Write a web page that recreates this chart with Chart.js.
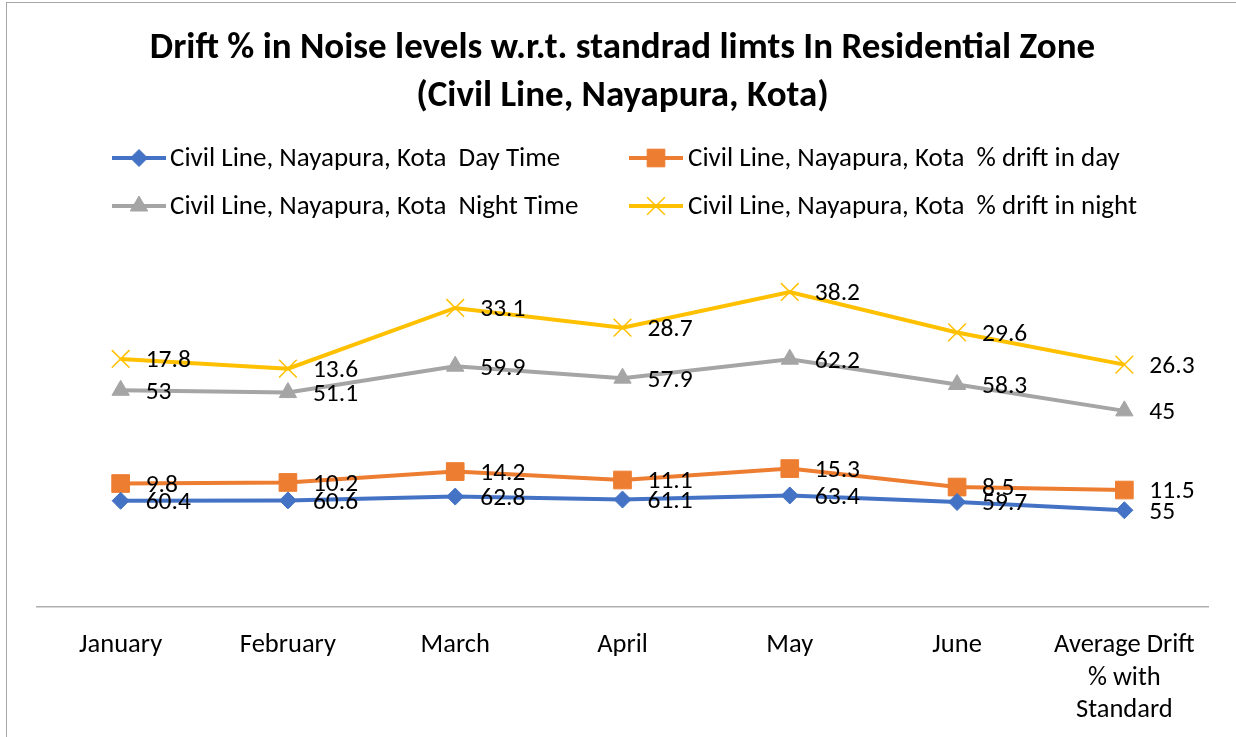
<!DOCTYPE html>
<html>
<head>
<meta charset="utf-8">
<script src="https://cdn.jsdelivr.net/npm/chart.js@4/dist/chart.umd.min.js"></script>
<style>
  html, body { margin: 0; padding: 0; background: #fff; }
  #wrap { position: relative; width: 1236px; height: 737px; }
</style>
</head>
<body>
<div id="wrap"><canvas id="c" width="1236" height="737"></canvas></div>
<script>
const categories = ["January", "February", "March", "April", "May", "June", ["Average Drift", "% with", "Standard"]];
const dayTime = [60.4, 60.6, 62.8, 61.1, 63.4, 59.7, 55];
const driftDay = [9.8, 10.2, 14.2, 11.1, 15.3, 8.5, 11.5];
const nightTime = [53, 51.1, 59.9, 57.9, 62.2, 58.3, 45];
const driftNight = [17.8, 13.6, 33.1, 28.7, 38.2, 29.6, 26.3];
const seriesNames = [
  "Civil Line, Nayapura, Kota  Day Time",
  "Civil Line, Nayapura, Kota  % drift in day",
  "Civil Line, Nayapura, Kota  Night Time",
  "Civil Line, Nayapura, Kota  % drift in night"
];
const titleLines = ["Drift % in Noise levels w.r.t. standrad limts In Residential Zone", "(Civil Line, Nayapura, Kota)"];

const FONT = "Carlito, Calibri, Lato, 'Liberation Sans', sans-serif";
const colors = ["#4472C4", "#ED7D31", "#A5A5A5", "#FFC000"];
const styles = ["rectRot", "rect", "triangle", "crossRot"];
const radii = [8.5, 12.5, 10, 12.5];

const datasets = [dayTime, driftDay, nightTime, driftNight].map((d, i) => ({
  label: seriesNames[i],
  data: d,
  borderColor: colors[i],
  backgroundColor: colors[i],
  pointBackgroundColor: colors[i],
  pointBorderColor: colors[i],
  pointStyle: styles[i],
  pointRadius: radii[i],
  pointBorderWidth: i === 3 ? 1.5 : 1,
  borderWidth: 4,
  fill: false,
  tension: 0
}));

const frame = {
  id: 'frame',
  beforeDraw(chart) {
    const ctx = chart.ctx;
    ctx.save();
    ctx.fillStyle = '#fff';
    ctx.fillRect(0, 0, chart.width, chart.height);
    ctx.strokeStyle = '#a6a6a6';
    ctx.lineWidth = 1;
    ctx.strokeRect(6.5, 2.5, 1400, 900);
    ctx.restore();
  }
};

const valueLabels = {
  id: 'valueLabels',
  afterDatasetsDraw(chart) {
    const ctx = chart.ctx;
    ctx.save();
    ctx.font = "25.5px " + FONT;
    ctx.fillStyle = '#000';
    ctx.textAlign = 'left';
    ctx.textBaseline = 'middle';
    chart.data.datasets.forEach((ds, i) => {
      const meta = chart.getDatasetMeta(i);
      meta.data.forEach((pt, j) => {
        ctx.fillText(String(ds.data[j]), pt.x + 25, pt.y + 2);
      });
    });
    ctx.restore();
  }
};

const legendPlugin = {
  id: 'customLegend',
  afterDraw(chart) {
    const ctx = chart.ctx;
    const pos = [
      { lx: 112, rx: 166, tx: 170, y: 158 },
      { lx: 629, rx: 683, tx: 688, y: 158 },
      { lx: 112, rx: 166, tx: 170, y: 206 },
      { lx: 629, rx: 683, tx: 688, y: 206 }
    ];
    ctx.save();
    chart.data.datasets.forEach((ds, i) => {
      const p = pos[i];
      ctx.strokeStyle = colors[i];
      ctx.fillStyle = colors[i];
      ctx.lineWidth = 4;
      ctx.beginPath();
      ctx.moveTo(p.lx, p.y);
      ctx.lineTo(p.rx, p.y);
      ctx.stroke();
      ctx.lineWidth = i === 3 ? 1.5 : 1;
      Chart.helpers.drawPoint(ctx, { pointStyle: styles[i], radius: radii[i], borderWidth: ctx.lineWidth }, (p.lx + p.rx) / 2, p.y);
      ctx.fillStyle = '#000';
      ctx.font = "27px " + FONT;
      ctx.textAlign = 'left';
      ctx.textBaseline = 'middle';
      ctx.fillText(ds.label, p.tx, p.y + 1);
    });
    ctx.restore();
  }
};

new Chart(document.getElementById('c'), {
  type: 'line',
  data: { labels: categories, datasets },
  plugins: [frame, valueLabels, legendPlugin],
  options: {
    responsive: false,
    animation: false,
    events: [],
    layout: { padding: { left: 37, right: 28, top: 0, bottom: 0 } },
    plugins: {
      legend: { display: false },
      tooltip: { enabled: false },
      title: {
        display: true,
        text: titleLines,
        color: '#000',
        font: { family: FONT, size: 37, weight: 'bold', lineHeight: 1.3 },
        padding: { top: 25, bottom: 134 }
      }
    },
    scales: {
      x: {
        offset: true,
        grid: { display: false },
        border: { display: true, color: '#b0b0b0', width: 1.5 },
        afterFit(scale) { scale.height = 130; },
        ticks: {
          color: '#000',
          maxRotation: 0,
          autoSkip: false,
          padding: 14,
          font: { family: FONT, size: 26.5, lineHeight: 1.23 }
        }
      },
      y: {
        display: false,
        stacked: true,
        min: 0,
        max: 200
      }
    }
  }
});
</script>
</body>
</html>
